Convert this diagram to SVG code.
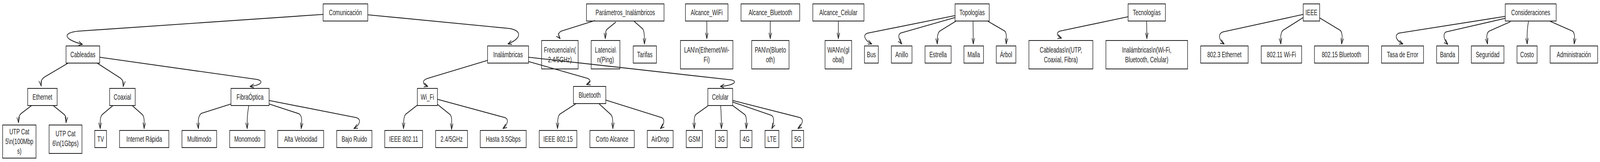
<svg xmlns="http://www.w3.org/2000/svg" width="6130" height="416" viewBox="0 0 6130 416" preserveAspectRatio="none">
<style>
svg{width:100vw;height:100vh;display:block}
rect.n{fill:none;stroke:#1e1e1e;stroke-width:2}
text{font-family:"Liberation Sans","DejaVu Sans",sans-serif;font-size:20px;fill:#1e1e1e;text-anchor:middle}
#edges path{fill:none;stroke:#1e1e1e;stroke-width:2.2;stroke-linecap:round;stroke-linejoin:round;marker-end:url(#ah)}
</style>
<defs>
<marker id="ah" viewBox="0 0 16 12" refX="15" refY="6" markerWidth="16" markerHeight="12" markerUnits="userSpaceOnUse" orient="auto">
<path d="M1,1 L15,6 L1,11" fill="none" stroke="#1e1e1e" stroke-width="2" stroke-linecap="round" stroke-linejoin="round"/>
</marker>
</defs>
<rect width="6130" height="416" fill="#ffffff"/>
<g id="edges">
<path d="M1238,37 L300,80 C240,84 240,100 316,114"/>
<path d="M1409,38 L1950,73 C2000,78 2000,98 1946,113"/>
<path d="M261,162 L170,198 C158,204 155,210 158,221"/>
<path d="M372,162 L460,200 C472,206 474,212 472,222"/>
<path d="M382,147 L985,204 C1010,208 1005,218 958,222"/>
<path d="M121,271 L80,292 C72,297 70,305 71,315"/>
<path d="M204,271 L246,294 C254,299 254,306 253,315"/>
<path d="M431,272 L392,294 C384,299 383,310 384,330"/>
<path d="M508,272 L545,294 C553,299 553,310 552,330"/>
<path d="M885,267 L772,291 C760,296 758,310 760,330"/>
<path d="M953,272 C948,290 946,310 947,330"/>
<path d="M1031,267 L1145,292 C1158,297 1157,310 1154,330"/>
<path d="M1031,258 L1365,302 C1385,306 1380,320 1356,330"/>
<path d="M1868,155 L1640,201 C1615,206 1618,216 1639,222"/>
<path d="M2025,158 L2250,201 C2265,205 2265,212 2247,217"/>
<path d="M2025,147 L2800,205 C2825,208 2820,218 2760,222"/>
<path d="M1599,270 L1555,293 C1547,298 1546,310 1546,330"/>
<path d="M1676,268 L1724,294 C1732,299 1731,310 1730,332"/>
<path d="M1676,255 L1935,302 C1950,306 1945,320 1927,330"/>
<path d="M2205,267 L2145,293 C2137,298 2136,310 2136,330"/>
<path d="M2296,267 L2340,294 C2348,299 2348,310 2348,330"/>
<path d="M2321,257 L2535,302 C2548,306 2545,320 2530,330"/>
<path d="M2712,272 L2666,294 C2659,299 2659,310 2660,330"/>
<path d="M2761,272 C2763,290 2764,310 2764,330"/>
<path d="M2807,271 L2853,294 C2861,299 2860,310 2859,330"/>
<path d="M2807,262 L2955,296 C2968,300 2965,318 2957,330"/>
<path d="M2807,258 L3065,302 C3080,306 3075,320 3057,330"/>
<path d="M2278,53 L2150,80 C2138,84 2138,92 2146,99"/>
<path d="M2359,57 L2326,75 C2319,80 2319,88 2319,99"/>
<path d="M2430,55 L2462,74 C2469,79 2469,95 2469,113"/>
<path d="M2708,54 L2708,99"/>
<path d="M2951,54 L2951,99"/>
<path d="M3212,54 L3212,99"/>
<path d="M3659,40 L3325,85 C3305,88 3310,103 3340,113"/>
<path d="M3659,45 L3450,85 C3438,90 3445,103 3455,113"/>
<path d="M3663,54 L3600,80 C3591,86 3590,100 3591,113"/>
<path d="M3728,54 L3729,113"/>
<path d="M3786,55 L3850,80 C3857,85 3856,100 3855,113"/>
<path d="M4322,43 L4060,80 C4045,84 4050,93 4067,98"/>
<path d="M4393,54 L4394,99"/>
<path d="M4993,37 L4685,82 C4665,87 4670,103 4690,113"/>
<path d="M4993,45 L4915,78 C4905,85 4906,100 4907,113"/>
<path d="M5056,46 L5135,78 C5145,85 5142,100 5140,113"/>
<path d="M5767,42 L5360,85 C5340,90 5350,105 5375,113"/>
<path d="M5767,47 L5540,82 C5525,88 5535,105 5547,114"/>
<path d="M5786,56 L5705,80 C5693,86 5696,100 5699,113"/>
<path d="M5856,55 C5850,75 5850,95 5851,113"/>
<path d="M5940,55 L6025,80 C6035,86 6033,100 6031,113"/>
</g>
<g id="comunicacion"><rect class="n" x="1238" y="10" width="171" height="44"/><text x="1323.5" y="39">Comunicación</text></g>
<g id="cableadas"><rect class="n" x="253" y="118" width="129" height="44"/><text x="317.5" y="147">Cableadas</text></g>
<g id="inalambricas"><rect class="n" x="1868" y="118" width="157" height="44"/><text x="1946.5" y="147">Inalámbricas</text></g>
<g id="ethernet"><rect class="n" x="106" y="227" width="113" height="44"/><text x="162.5" y="256">Ethernet</text></g>
<g id="coaxial"><rect class="n" x="420" y="227" width="98" height="44"/><text x="469" y="256">Coaxial</text></g>
<g id="fibra"><rect class="n" x="885" y="227" width="146" height="44"/><text x="958" y="256">FibraÓptica</text></g>
<g id="wifi"><rect class="n" x="1599" y="227" width="77" height="44"/><text x="1637.5" y="256">Wi_Fi</text></g>
<g id="bluetooth"><rect class="n" x="2197" y="222" width="124" height="44"/><text x="2259" y="251">Bluetooth</text></g>
<g id="celular"><rect class="n" x="2712" y="227" width="95" height="44"/><text x="2759.5" y="256">Celular</text></g>
<g id="utp5"><rect class="n" x="10" y="321" width="128" height="85"/><text x="74" y="345">UTP Cat<tspan x="74" y="370">5\n(100Mbp</tspan><tspan x="74" y="395">s)</tspan></text></g>
<g id="utp6"><rect class="n" x="188" y="321" width="126" height="73"/><text x="251" y="350">UTP Cat<tspan x="251" y="375">6\n(1Gbps)</tspan></text></g>
<g id="tv"><rect class="n" x="363" y="335" width="45" height="44"/><text x="385.5" y="364">TV</text></g>
<g id="internet"><rect class="n" x="458" y="335" width="189" height="44"/><text x="552.5" y="364">Internet Rápida</text></g>
<g id="multimodo"><rect class="n" x="697" y="335" width="133" height="44"/><text x="763.5" y="364">Multimodo</text></g>
<g id="monomodo"><rect class="n" x="880" y="335" width="135" height="44"/><text x="947.5" y="364">Monomodo</text></g>
<g id="alta"><rect class="n" x="1064" y="335" width="176" height="44"/><text x="1152" y="364">Alta Velocidad</text></g>
<g id="bajo"><rect class="n" x="1290" y="335" width="135" height="44"/><text x="1357.5" y="364">Bajo Ruido</text></g>
<g id="ieee80211"><rect class="n" x="1474" y="335" width="145" height="44"/><text x="1546.5" y="364">IEEE 802.11</text></g>
<g id="ghz"><rect class="n" x="1669" y="335" width="122" height="44"/><text x="1730" y="364">2.4/5GHz</text></g>
<g id="hasta"><rect class="n" x="1840" y="335" width="176" height="44"/><text x="1928" y="364">Hasta 3.5Gbps</text></g>
<g id="ieee80215"><rect class="n" x="2066" y="335" width="144" height="44"/><text x="2138" y="364">IEEE 802.15</text></g>
<g id="corto"><rect class="n" x="2260" y="335" width="170" height="44"/><text x="2345" y="364">Corto Alcance</text></g>
<g id="airdrop"><rect class="n" x="2480" y="335" width="99" height="44"/><text x="2529.5" y="364">AirDrop</text></g>
<g id="gsm"><rect class="n" x="2629" y="335" width="62" height="44"/><text x="2660" y="364">GSM</text></g>
<g id="g3"><rect class="n" x="2741" y="335" width="45" height="44"/><text x="2763.5" y="364">3G</text></g>
<g id="g4"><rect class="n" x="2836" y="335" width="45" height="44"/><text x="2858.5" y="364">4G</text></g>
<g id="lte"><rect class="n" x="2931" y="335" width="53" height="44"/><text x="2957.5" y="364">LTE</text></g>
<g id="g5"><rect class="n" x="3034" y="335" width="45" height="44"/><text x="3056.5" y="364">5G</text></g>
<g id="parametros"><rect class="n" x="2247" y="10" width="297" height="44"/><text x="2395.5" y="39">Parámetros_Inalámbricos</text></g>
<g id="frecuencia"><rect class="n" x="2075" y="104" width="140" height="73"/><text x="2145" y="135">Frecuencia\n(<tspan x="2145" y="160">2.4/5GHz)</tspan></text></g>
<g id="latencia"><rect class="n" x="2265" y="104" width="110" height="73"/><text x="2320" y="135">Latencia\<tspan x="2320" y="160">n(Ping)</tspan></text></g>
<g id="tarifas"><rect class="n" x="2426" y="118" width="89" height="44"/><text x="2470.5" y="147">Tarifas</text></g>
<g id="alcance_wifi"><rect class="n" x="2626" y="10" width="163" height="44"/><text x="2707.5" y="39">Alcance_WiFi</text></g>
<g id="lan"><rect class="n" x="2607" y="104" width="201" height="73"/><text x="2707.5" y="135">LAN\n(Ethernet/Wi-<tspan x="2707.5" y="160">Fi)</tspan></text></g>
<g id="alcance_bt"><rect class="n" x="2839" y="10" width="225" height="44"/><text x="2951.5" y="39">Alcance_Bluetooth</text></g>
<g id="pan"><rect class="n" x="2880" y="104" width="143" height="73"/><text x="2951.5" y="135">PAN\n(Blueto<tspan x="2951.5" y="160">oth)</tspan></text></g>
<g id="alcance_cel"><rect class="n" x="3114" y="10" width="196" height="44"/><text x="3212" y="39">Alcance_Celular</text></g>
<g id="wan"><rect class="n" x="3161" y="104" width="102" height="73"/><text x="3212" y="135">WAN\n(gl<tspan x="3212" y="160">obal)</tspan></text></g>
<g id="topologias"><rect class="n" x="3659" y="10" width="131" height="44"/><text x="3724.5" y="39">Topologías</text></g>
<g id="bus"><rect class="n" x="3312" y="118" width="53" height="44"/><text x="3338.5" y="147">Bus</text></g>
<g id="anillo"><rect class="n" x="3415" y="118" width="79" height="44"/><text x="3454.5" y="147">Anillo</text></g>
<g id="estrella"><rect class="n" x="3544" y="118" width="100" height="44"/><text x="3594" y="147">Estrella</text></g>
<g id="malla"><rect class="n" x="3693" y="118" width="75" height="44"/><text x="3730.5" y="147">Malla</text></g>
<g id="arbol"><rect class="n" x="3817" y="118" width="75" height="44"/><text x="3854.5" y="147">Árbol</text></g>
<g id="tecnologias"><rect class="n" x="4322" y="10" width="143" height="44"/><text x="4393.5" y="39">Tecnologías</text></g>
<g id="cableadas2"><rect class="n" x="3942" y="104" width="245" height="73"/><text x="4064.5" y="135">Cableadas\n(UTP,<tspan x="4064.5" y="160">Coaxial, Fibra)</tspan></text></g>
<g id="inalambricas2"><rect class="n" x="4237" y="104" width="313" height="73"/><text x="4393.5" y="135">Inalámbricas\n(Wi-Fi,<tspan x="4393.5" y="160">Bluetooth, Celular)</tspan></text></g>
<g id="ieee"><rect class="n" x="4993" y="10" width="63" height="44"/><text x="5024.5" y="39">IEEE</text></g>
<g id="e8023"><rect class="n" x="4600" y="118" width="182" height="44"/><text x="4691" y="147">802.3 Ethernet</text></g>
<g id="e80211"><rect class="n" x="4832" y="118" width="155" height="44"/><text x="4909.5" y="147">802.11 Wi-Fi</text></g>
<g id="e80215"><rect class="n" x="5036" y="118" width="207" height="44"/><text x="5139.5" y="147">802.15 Bluetooth</text></g>
<g id="consideraciones"><rect class="n" x="5767" y="10" width="195" height="44"/><text x="5864.5" y="39">Consideraciones</text></g>
<g id="tasa"><rect class="n" x="5293" y="118" width="161" height="44"/><text x="5373.5" y="147">Tasa de Error</text></g>
<g id="banda"><rect class="n" x="5504" y="118" width="84" height="44"/><text x="5546" y="147">Banda</text></g>
<g id="seguridad"><rect class="n" x="5637" y="118" width="125" height="44"/><text x="5699.5" y="147">Seguridad</text></g>
<g id="costo"><rect class="n" x="5812" y="118" width="77" height="44"/><text x="5850.5" y="147">Costo</text></g>
<g id="administracion"><rect class="n" x="5939" y="118" width="182" height="44"/><text x="6030" y="147">Administración</text></g>
</svg>
